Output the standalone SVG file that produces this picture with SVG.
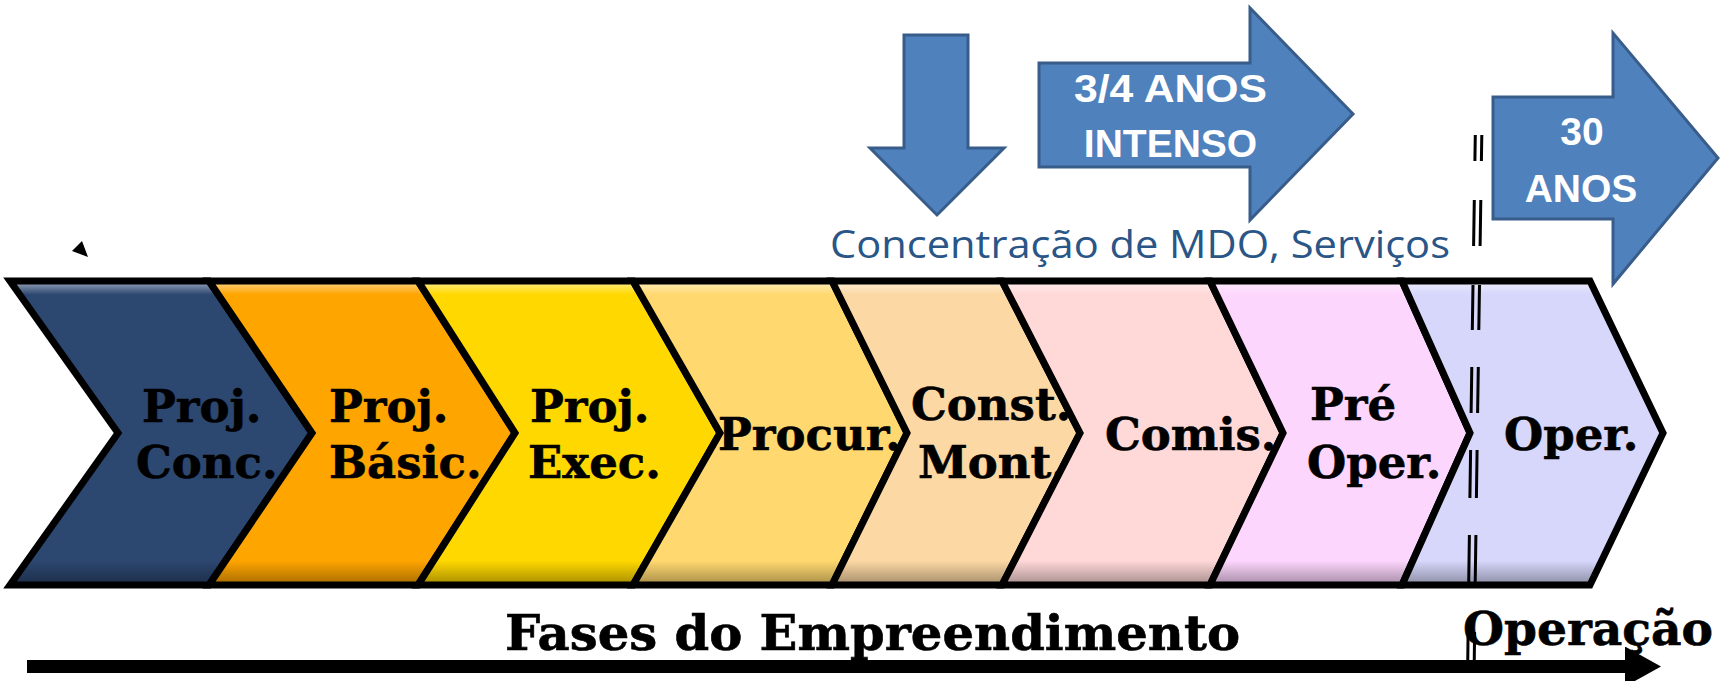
<svg xmlns="http://www.w3.org/2000/svg" width="1720" height="681" viewBox="0 0 1720 681">
<style>
.chev{stroke:#000;stroke-width:7;stroke-linejoin:miter;fill:none}
.bev{fill:url(#bevel);stroke:none}
.lbl{font-family:"DejaVu Serif","Liberation Serif",serif;font-weight:bold;font-size:45px;fill:#000;stroke:#000;stroke-width:0.6}
.blue{fill:#4F81BD;stroke:#385D8A;stroke-width:3;stroke-linejoin:miter}
.wt{font-family:"Liberation Sans","Open Sans",sans-serif;font-weight:bold;font-size:39px;fill:#fff;text-anchor:middle}
.conc{font-family:"Open Sans","Noto Sans",sans-serif;font-size:38px;fill:#2A5587}
.big{font-family:"DejaVu Serif","Liberation Serif",serif;font-weight:bold;fill:#000;stroke:#000;stroke-width:0.6}
.dash{stroke:#000;stroke-width:3;fill:none}
</style>
<defs>
<linearGradient id="bevel" x1="0" y1="0" x2="0" y2="1">
<stop offset="0" stop-color="#fff" stop-opacity="0.55"/>
<stop offset="0.045" stop-color="#fff" stop-opacity="0"/>
<stop offset="0.92" stop-color="#000" stop-opacity="0"/>
<stop offset="1" stop-color="#000" stop-opacity="0.35"/>
</linearGradient>
<marker id="head" markerUnits="userSpaceOnUse" markerWidth="36" markerHeight="40" viewBox="0 0 36 40" refX="0" refY="20" orient="auto">
<path d="M0,0 L36,20 L0,40 z" fill="#000"/>
</marker>
</defs>
<rect width="1720" height="681" fill="#fff"/>

<g id="ch1">
<polygon fill="#2C4770" points="10,281 209,281 312,433 209,585 10,585 118,433"/>
<polygon class="bev" points="10,281 209,281 312,433 209,585 10,585 118,433"/>
<polygon class="chev" points="10,281 209,281 312,433 209,585 10,585 118,433"/>
<text class="lbl" x="142" y="422">Proj.</text>
<text class="lbl" x="136" y="478">Conc.</text>
</g>
<g id="ch2">
<polygon fill="#FFA500" points="209,281 418,281 515,433 418,585 209,585 312,433"/>
<polygon class="bev" points="209,281 418,281 515,433 418,585 209,585 312,433"/>
<polygon class="chev" points="209,281 418,281 515,433 418,585 209,585 312,433"/>
<text class="lbl" x="329" y="422">Proj.</text>
<text class="lbl" x="329" y="478">Básic.</text>
</g>
<g id="ch3">
<polygon fill="#FFD800" points="418,281 633,281 720,433 633,585 418,585 515,433"/>
<polygon class="bev" points="418,281 633,281 720,433 633,585 418,585 515,433"/>
<polygon class="chev" points="418,281 633,281 720,433 633,585 418,585 515,433"/>
<text class="lbl" x="530" y="422">Proj.</text>
<text class="lbl" x="528" y="478">Exec.</text>
</g>
<g id="ch4">
<polygon fill="#FFD86F" points="633,281 832,281 907,433 832,585 633,585 720,433"/>
<polygon class="bev" points="633,281 832,281 907,433 832,585 633,585 720,433"/>
<polygon class="chev" points="633,281 832,281 907,433 832,585 633,585 720,433"/>
<text class="lbl" x="718" y="450">Procur.</text>
</g>
<g id="ch5">
<polygon fill="#FCD8A4" points="832,281 1002,281 1080,433 1002,585 832,585 907,433"/>
<polygon class="bev" points="832,281 1002,281 1080,433 1002,585 832,585 907,433"/>
<polygon class="chev" points="832,281 1002,281 1080,433 1002,585 832,585 907,433"/>
<text class="lbl" x="911" y="420">Const.</text>
<text class="lbl" x="918" y="478">Mont.</text>
</g>
<g id="ch6">
<polygon fill="#FFD8D8" points="1002,281 1210,281 1283,433 1210,585 1002,585 1080,433"/>
<polygon class="bev" points="1002,281 1210,281 1283,433 1210,585 1002,585 1080,433"/>
<polygon class="chev" points="1002,281 1210,281 1283,433 1210,585 1002,585 1080,433"/>
<text class="lbl" x="1105" y="450">Comis.</text>
</g>
<g id="ch7">
<polygon fill="#FDD6FD" points="1210,281 1402,281 1470,433 1402,585 1210,585 1283,433"/>
<polygon class="bev" points="1210,281 1402,281 1470,433 1402,585 1210,585 1283,433"/>
<polygon class="chev" points="1210,281 1402,281 1470,433 1402,585 1210,585 1283,433"/>
<text class="lbl" x="1310" y="420">Pré</text>
<text class="lbl" x="1307" y="478">Oper.</text>
</g>
<g id="ch8">
<polygon fill="#D6D7FB" points="1402,281 1590,281 1663,433 1590,585 1402,585 1470,433"/>
<polygon class="bev" points="1402,281 1590,281 1663,433 1590,585 1402,585 1470,433"/>
<polygon class="chev" points="1402,281 1590,281 1663,433 1590,585 1402,585 1470,433"/>
<text class="lbl" x="1504" y="450">Oper.</text>
</g>

<g id="arrow-down">
<polygon class="blue" points="904,35 968,35 968,148 1004,148 937,215 870,148 904,148"/>
</g>
<g id="arrow-intenso">
<polygon class="blue" points="1039,63 1250,63 1250,8 1353,114 1250,220 1250,167 1039,167"/>
<text class="wt" x="1170.5" y="102" textLength="193" lengthAdjust="spacingAndGlyphs">3/4 ANOS</text>
<text class="wt" x="1170.5" y="157">INTENSO</text>
</g>
<g id="arrow-30">
<polygon class="blue" points="1493,97 1613,97 1613,33 1718,158 1613,284 1613,219 1493,219"/>
<text class="wt" x="1582" y="145">30</text>
<text class="wt" x="1581" y="202">ANOS</text>
</g>
<g id="label-conc">
<text class="conc" x="830" y="258" textLength="620" lengthAdjust="spacingAndGlyphs">Concentração de MDO, Serviços</text>
</g>

<g id="connectors">
<line x1="27" y1="666.5" x2="1625" y2="666.5" stroke="#000" stroke-width="13" marker-end="url(#head)"/>
<path class="dash" d="M1475.3,135 L1474.9,161 M1474.3,200 L1473.6,246 M1473,285 L1472.3,330 M1471.8,367 L1471.1,413 M1470.6,450 L1469.9,498 M1469.4,535 L1468.7,583 M1468.1,632 L1467.6,673"/>
<path class="dash" d="M1481.8,135 L1481.4,161 M1480.8,200 L1480.1,246 M1479.5,285 L1478.8,330 M1478.3,367 L1477.6,413 M1477.1,450 L1476.4,498 M1475.9,535 L1475.2,583 M1474.6,632 L1474.1,673"/>
<polygon points="82,241 72,251 88,257" fill="#000"/>
</g>

<g id="titles">
<text class="big" x="505" y="650" font-size="48" textLength="735" lengthAdjust="spacingAndGlyphs">Fases do Empreendimento</text>
<text class="big" x="1463" y="645" font-size="47" textLength="250" lengthAdjust="spacingAndGlyphs">Operação</text>
</g>
</svg>
